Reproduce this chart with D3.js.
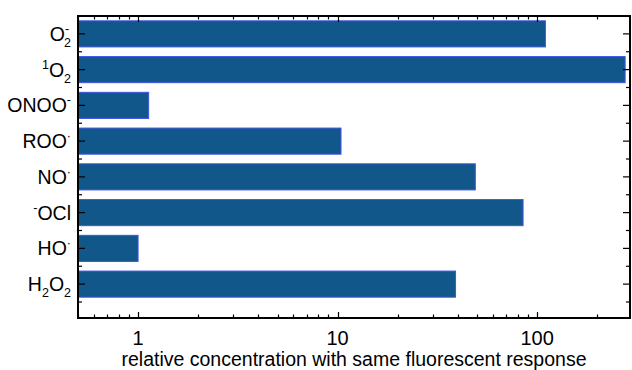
<!DOCTYPE html>
<html><head><meta charset="utf-8">
<script src="https://cdn.jsdelivr.net/npm/d3@7"></script>
<style>body{margin:0;background:#fff}svg{display:block}text{font-family:"Liberation Sans",Arial,sans-serif;fill:#000}</style>
</head><body>
<svg id="c" width="632" height="370"></svg>
<script>
const categories = ["O2-", "1O2", "ONOO-", "ROO-", "NO-", "-OCl", "HO-", "H2O2"];
const values = [110, 276, 1.13, 10.4, 49, 85, 1.0, 39];
const xTickValues = [1, 10, 100];
const xTickLabels = ["1", "10", "100"];
const xTitle = "relative concentration with same fluorescent response";
// label parts: [text, kind] kind: n normal, sup, sub ; sup followed by sub is stacked
const labelParts = [
  [["O","n"],["-","sup"],["2","sub"]],
  [["1","sup"],["O","n"],["2","sub"]],
  [["ONOO","n"],["-","sup"]],
  [["ROO","n"],["·","sup"]],
  [["NO","n"],["·","sup"]],
  [["-","sup"],["OCl","n"]],
  [["HO","n"],["·","sup"]],
  [["H","n"],["2","sub"],["O","n"],["2","sub"]]
];

const svg = d3.select("#c");
const L = 78, R = 630, T = 16, B = 318;
const x = d3.scaleLog().domain([0.5, 292]).range([L, R]);
const y = d3.scaleBand().domain(categories).range([T, T + 8 * 35.75]).paddingInner(0.27).paddingOuter(0.135);

// bars
svg.append("g").selectAll("rect").data(categories).join("rect")
  .attr("x", x(0.5))
  .attr("y", d => y(d))
  .attr("width", (d, i) => x(values[i]) - x(0.5))
  .attr("height", y.bandwidth())
  .attr("fill", "#11578a")
  .attr("stroke", "#3f55e0")
  .attr("stroke-width", 1);

// x minor/major ticks
const minor = [];
[0.1, 1, 10, 100].forEach(d => { for (let k = 1; k <= 9; k++) { const v = d * k; if (v >= 0.5 && v <= 292) minor.push(v); } });
const tg = svg.append("g").attr("stroke", "#000").attr("stroke-width", 1.2);
minor.forEach(v => {
  const isMaj = xTickValues.includes(v);
  const len = isMaj ? 6 : 3.5;
  const xp = Math.round(x(v)) + 0.5;
  tg.append("line").attr("x1", xp).attr("x2", xp).attr("y1", B).attr("y2", B - len);
  tg.append("line").attr("x1", xp).attr("x2", xp).attr("y1", T).attr("y2", T + len);
});
// y ticks
const step = y.step();
categories.forEach((c, i) => {
  const cy = y(c) + y.bandwidth() / 2;
  tg.append("line").attr("x1", L).attr("x2", L + 7).attr("y1", cy).attr("y2", cy);
  tg.append("line").attr("x1", R).attr("x2", R - 7).attr("y1", cy).attr("y2", cy);
  const by = cy + step / 2;
  tg.append("line").attr("x1", L).attr("x2", L + 4).attr("y1", by).attr("y2", by);
  tg.append("line").attr("x1", R).attr("x2", R - 4).attr("y1", by).attr("y2", by);
  if (i === 0) {
    const ty = cy - step / 2;
    tg.append("line").attr("x1", L).attr("x2", L + 4).attr("y1", ty).attr("y2", ty);
    tg.append("line").attr("x1", R).attr("x2", R - 4).attr("y1", ty).attr("y2", ty);
  }
});

// frame
svg.append("rect").attr("x", L).attr("y", T).attr("width", R - L).attr("height", B - T)
  .attr("fill", "none").attr("stroke", "#000").attr("stroke-width", 2);

// x tick labels
svg.append("g").selectAll("text").data(xTickValues).join("text")
  .attr("x", d => x(d)).attr("y", 345).attr("text-anchor", "middle")
  .attr("font-size", 20).text((d, i) => xTickLabels[i]);

svg.append("text").attr("x", (L + R) / 2).attr("y", 366).attr("text-anchor", "middle")
  .attr("font-size", 19.5).text(xTitle);

// y labels
const FS = 19.5, SS = 12.5;
categories.forEach((c, i) => {
  const cy = y(c) + y.bandwidth() / 2 + 7;
  const t = svg.append("text").attr("x", L - 7).attr("y", cy).attr("text-anchor", "end").attr("font-size", FS);
  const parts = labelParts[i];
  let off = 0;
  for (let j = 0; j < parts.length; j++) {
    const [s, k] = parts[j];
    if (k === "n") {
      t.append("tspan").attr("dy", -off).text(s);
      off = 0;
    } else if (k === "sup") {
      const next = parts[j + 1];
      t.append("tspan").attr("font-size", SS).attr("dy", -8 - off).text(s);
      off = -8;
      if (next && next[1] === "sub") {
        t.append("tspan").attr("font-size", SS).attr("dx", -5).attr("dy", 14).text(next[0]);
        off = 6;
        j++;
      }
    } else if (k === "sub") {
      t.append("tspan").attr("font-size", SS).attr("dy", 6 - off).text(s);
      off = 6;
    }
  }
});
</script>
</body></html>
